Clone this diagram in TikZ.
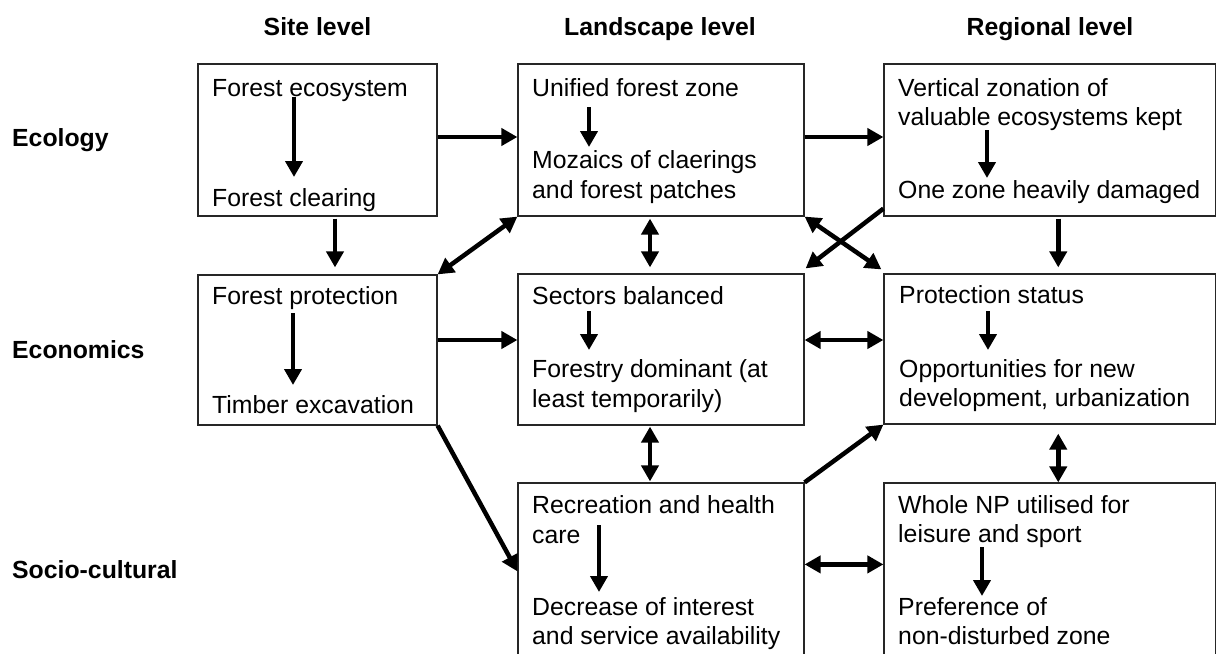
\documentclass[tikz,border=0pt]{standalone}
\usepackage{fontspec}
\setmainfont{Liberation Sans}
\usetikzlibrary{arrows.meta,calc}
\begin{document}
\begin{tikzpicture}[x=1pt,y=-1pt,
  box/.style={draw=black!85,line width=1.2pt,rectangle,inner sep=0pt},
  txt/.style={anchor=base west,inner sep=0pt,font=\fontsize{24.8}{29}\selectfont},
  hdr/.style={anchor=base,inner sep=0pt,font=\fontsize{24.8}{29}\selectfont\bfseries},
  rowlab/.style={anchor=base west,inner sep=0pt,font=\fontsize{24.8}{29}\selectfont\bfseries},
  arr/.style={line width=4.5pt,-{Triangle[length=16pt,width=17pt]}},
  darr/.style={line width=4.5pt,{Triangle[length=16pt,width=17pt]}-{Triangle[length=16pt,width=17pt]}}]
\useasboundingbox (0,0) rectangle (1217,653);

% headers
\node[hdr] (hsite) at (317.5,35) {Site level};
\node[hdr] (hland) at (660,35) {Landscape level};
\node[hdr] (hreg) at (1050,35) {Regional level};
\node[rowlab] (reco) at (12,146) {Ecology};
\node[rowlab] (recn) at (12,358) {Economics};
\node[rowlab] (rsoc) at (12,578) {Socio-cultural};

% boxes
\node[box,minimum width=239pt,minimum height=152pt] (A) at (317.5,140) {};
\node[box,minimum width=286pt,minimum height=152pt] (B) at (661,140) {};
\node[box,minimum width=331.5pt,minimum height=152pt] (C) at (1049.75,140) {};
\node[box,minimum width=239pt,minimum height=150pt] (D) at (317.5,350) {};
\node[box,minimum width=286pt,minimum height=151pt] (E) at (661,349.5) {};
\node[box,minimum width=331.5pt,minimum height=150pt] (F) at (1049.75,349) {};
\node[box,minimum width=286pt,minimum height=177pt] (G) at (661,571.5) {};
\node[box,minimum width=331.5pt,minimum height=177pt] (H) at (1049.75,571.5) {};

% texts
\node[txt] (a1) at (212,96) {Forest ecosystem};
\node[txt] (a2) at (212,206) {Forest clearing};
\node[txt] (b1) at (532,96) {Unified forest zone};
\node[txt] (b2) at (532,168) {Mozaics of claerings};
\node[txt] (b3) at (532,198) {and forest patches};
\node[txt] (c1) at (898,96) {Vertical zonation of};
\node[txt] (c2) at (898,125) {valuable ecosystems kept};
\node[txt] (c3) at (898,198) {One zone heavily damaged};
\node[txt] (d1) at (212,304) {Forest protection};
\node[txt] (d2) at (212,413) {Timber excavation};
\node[txt] (e1) at (532,304) {Sectors balanced};
\node[txt] (e2) at (532,377) {Forestry dominant (at};
\node[txt] (e3) at (532,407) {least temporarily)};
\node[txt] (f1) at (899,303) {Protection status};
\node[txt] (f2) at (899,377) {Opportunities for new};
\node[txt] (f3) at (899,406) {development, urbanization};
\node[txt] (g1) at (532,513) {Recreation and health};
\node[txt] (g2) at (532,543) {care};
\node[txt] (g3) at (532,615) {Decrease of interest};
\node[txt] (g4) at (532,644) {and service availability};
\node[txt] (h1) at (898,513) {Whole NP utilised for};
\node[txt] (h2) at (898,542) {leisure and sport};
\node[txt] (h3) at (898,615) {Preference of};
\node[txt] (h4) at (898,644) {non-disturbed zone};

% inner arrows
\draw[arr] ($(a1.base west)+(82,1)$) -- ($(a2.base west)+(82,-29)$);
\draw[arr] ($(b1.base west)+(57,11)$) -- ($(b2.base west)+(57,-21)$);
\draw[arr] ($(c2.base west)+(89,5)$) -- ($(c3.base west)+(89,-20)$);
\draw[arr] ($(d1.base west)+(81,9)$) -- ($(d2.base west)+(81,-28)$);
\draw[arr] ($(e1.base west)+(57,7)$) -- ($(e2.base west)+(57,-27)$);
\draw[arr] ($(f1.base west)+(89,8)$) -- ($(f2.base west)+(89,-27)$);
\draw[arr] ($(g1.base west)+(67,12)$) -- ($(g3.base west)+(67,-23)$);
\draw[arr] ($(h2.base west)+(84,5)$) -- ($(h3.base west)+(84,-19)$);

% connectors between boxes
\draw[arr] ($(A.east)+(0,-3)$) -- ($(B.west)+(0,-3)$);
\draw[arr] ($(B.east)+(0,-3)$) -- ($(C.west)+(0,-3)$);
\draw[arr] ($(A.south)+(17.5,2)$) -- ($(D.north)+(17.5,-7)$);
\draw[darr] (D.north east) -- (B.south west);
\draw[darr] ($(B.south)+(-11,2)$) -- ($(E.north)+(-11,-6)$);
\draw[darr] (B.south east) -- ($(F.north west)+(-2,-4)$);
\draw[arr] ($(C.south west)+(0,-8)$) -- ($(E.north east)+(1,-5)$);
\draw[arr] ($(C.south)+(8.5,2)$) -- ($(F.north)+(8.5,-6)$);
\draw[arr] ($(D.east)+(0,-10)$) -- ($(E.west)+(0,-9.5)$);
\draw[darr] ($(E.east)+(0,-9.5)$) -- ($(F.west)+(0,-9)$);
\draw[arr] (D.south east) -- ($(G.north west)+(0,89)$);
\draw[darr] ($(E.south)+(-11,1)$) -- ($(G.north)+(-11,-1)$);
\draw[arr] (G.north east) -- (F.south west);
\draw[darr] ($(F.south)+(8.5,9)$) -- ($(H.north)+(8.5,0)$);
\draw[darr] ($(G.north east)+(0,82)$) -- ($(H.north west)+(0,82)$);
\end{tikzpicture}
\end{document}
